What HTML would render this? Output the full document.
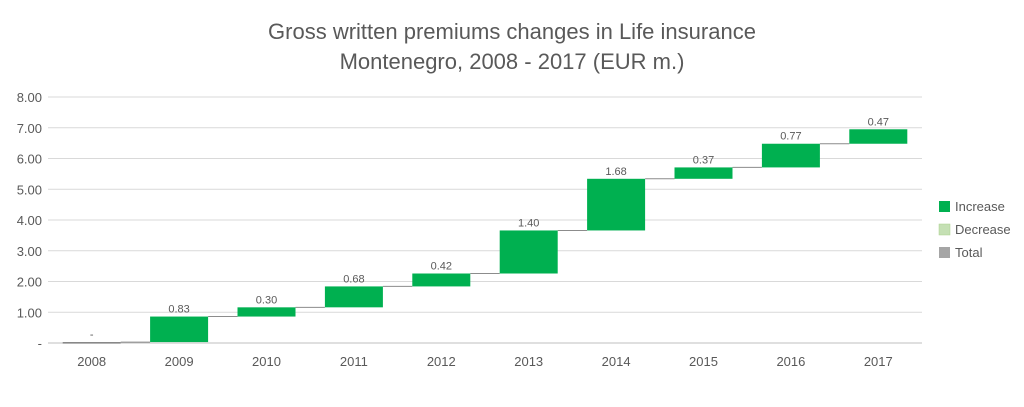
<!DOCTYPE html>
<html><head><meta charset="utf-8"><style>
body{margin:0;background:#fff;width:1024px;height:402px;overflow:hidden;font-family:"Liberation Sans","DejaVu Sans",sans-serif}
</style></head><body>
<svg width="1024" height="402" xmlns="http://www.w3.org/2000/svg">
<g fill="#595959" font-size="22" text-anchor="middle">
<text x="512" y="39">Gross written premiums changes in Life insurance</text>
<text x="512" y="69">Montenegro, 2008 - 2017 (EUR m.)</text>
</g>
<g id="grid"></g>
<g id="yticks" fill="#595959" font-size="13" text-anchor="end"></g>
<g id="xticks" fill="#595959" font-size="13" text-anchor="middle"></g>
<g id="conn"></g>
<g id="bars"></g>
<g id="vals" fill="#595959" font-size="11" text-anchor="middle"></g>
<g font-size="13" fill="#595959">
<g><rect x="939" y="201" width="11" height="11" fill="#00b050"/><text x="955" y="211">Increase</text></g>
<g><rect x="939" y="224" width="11" height="11" fill="#c5e0b4" stroke="#a9d18e" stroke-width="0.5"/><text x="955" y="234">Decrease</text></g>
<g><rect x="939" y="247" width="11" height="11" fill="#a5a5a5"/><text x="955" y="257">Total</text></g>
</g>
</svg>
<script>
const categories=["2008","2009","2010","2011","2012","2013","2014","2015","2016","2017"];
const startTotal=0.03;
const changes=[0,0.83,0.30,0.68,0.42,1.40,1.68,0.37,0.77,0.47];
const valueLabels=["-","0.83","0.30","0.68","0.42","1.40","1.68","0.37","0.77","0.47"];
const yTicks=[0,1,2,3,4,5,6,7,8];
const yTickLabels=["-","1.00","2.00","3.00","4.00","5.00","6.00","7.00","8.00"];
const NS="http://www.w3.org/2000/svg";
const X0=48,X1=922,Y0=343,PPU=30.75,BW=58;
const band=(X1-X0)/categories.length;
const y=v=>Y0-v*PPU;
const xc=i=>X0+band*(i+0.5);
function mk(t,a,p){const e=document.createElementNS(NS,t);for(const k in a)e.setAttribute(k,a[k]);p.appendChild(e);return e;}
const grid=document.getElementById('grid'),yt=document.getElementById('yticks'),xt=document.getElementById('xticks');
yTicks.forEach((v,i)=>{
 const l=mk('line',{x1:X0,x2:X1,y1:y(v),y2:y(v),stroke:v===0?'#bfbfbf':'#d9d9d9','stroke-width':1},grid);
 
 
 const t=mk('text',{x:42,y:y(v)+5},yt);t.textContent=yTickLabels[i];
 
 
});
categories.forEach((c,i)=>{
 const t=mk('text',{x:xc(i),y:366},xt);t.textContent=c;
 
 
});
const bars=document.getElementById('bars'),vals=document.getElementById('vals'),conn=document.getElementById('conn');
let cum=0;
categories.forEach((c,i)=>{
 let lo,hi,fill;
 if(i===0){lo=0;hi=startTotal;fill='#7f7f7f';cum=startTotal;}
 else{lo=cum;hi=cum+changes[i];cum=hi;fill='#00b050';}
 const top=y(hi),h=Math.max(1.5,y(lo)-y(hi));
 const r=mk('rect',{x:xc(i)-BW/2,y:top,width:BW,height:h,fill:fill},bars);
 
 
 const t=mk('text',{x:xc(i),y:top-4},vals);t.textContent=valueLabels[i];
 
 
 if(i<categories.length-1){
  const l=mk('line',{x1:xc(i)+BW/2,x2:xc(i+1)-BW/2,y1:y(cum),y2:y(cum),stroke:'#8c8c8c','stroke-width':1},conn);
  
  
 }
});
</script>
</body></html>
